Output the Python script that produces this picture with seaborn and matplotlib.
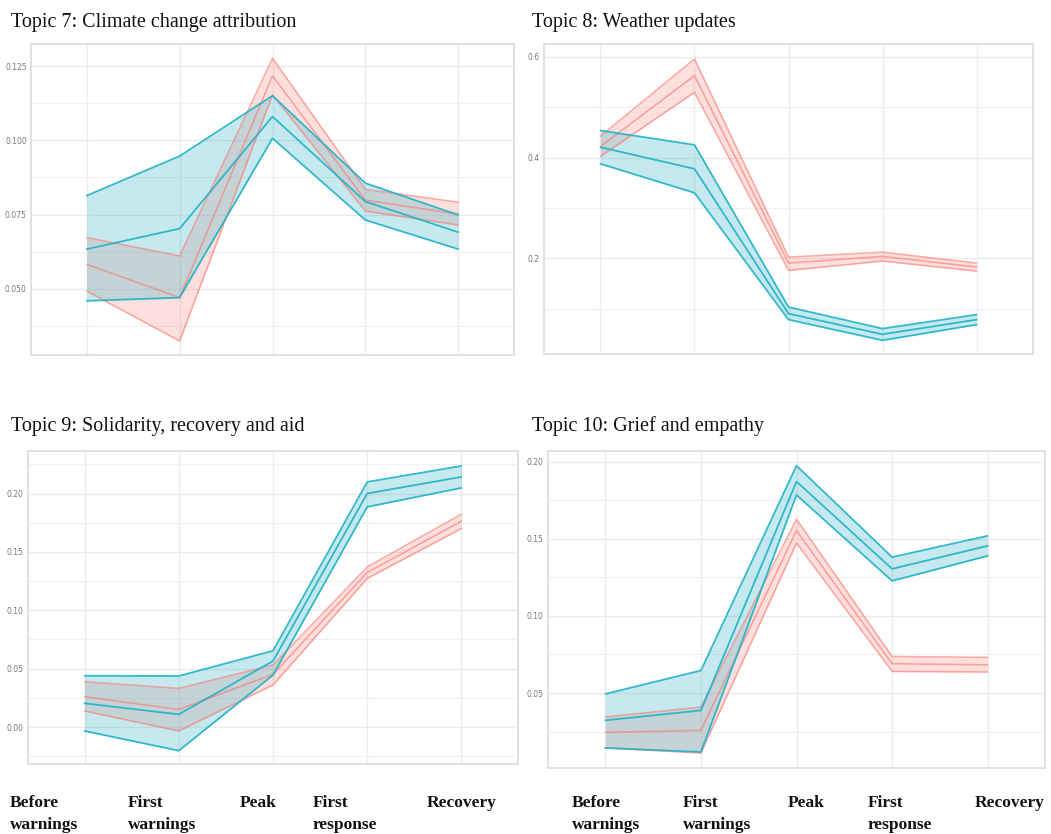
import numpy as np
import pandas as pd
import matplotlib
matplotlib.use("Agg")
import matplotlib.pyplot as plt
from matplotlib.ticker import FixedLocator
import seaborn as sns

# Phases of the event timeline (x axis)
phases = ["Before warnings", "First warnings", "Peak", "First response", "Recovery"]
phase_labels = ["Before\nwarnings", "First\nwarnings", "Peak", "First\nresponse", "Recovery"]

# Topic 7: Climate change attribution
t7_red_mean = [0.0583, 0.0471, 0.1217, 0.0799, 0.0752]
t7_red_low = [0.0493, 0.0325, 0.1153, 0.0762, 0.0715]
t7_red_high = [0.0673, 0.0611, 0.1276, 0.0835, 0.0792]
t7_teal_mean = [0.0634, 0.0703, 0.1080, 0.0794, 0.0691]
t7_teal_low = [0.0460, 0.0471, 0.1007, 0.0732, 0.0634]
t7_teal_high = [0.0814, 0.0947, 0.1150, 0.0856, 0.0749]

# Topic 8: Weather updates
t8_red_mean = [0.4218, 0.5624, 0.1907, 0.2040, 0.1828]
t8_red_low = [0.4020, 0.5293, 0.1762, 0.1947, 0.1749]
t8_red_high = [0.4422, 0.5954, 0.2026, 0.2125, 0.1907]
t8_teal_mean = [0.4204, 0.3776, 0.0905, 0.0495, 0.0786]
t8_teal_low = [0.3875, 0.3300, 0.0786, 0.0376, 0.0687]
t8_teal_high = [0.4535, 0.4251, 0.1036, 0.0608, 0.0885]

# Topic 9: Solidarity, recovery and aid
t9_red_mean = [0.0259, 0.0151, 0.0451, 0.1324, 0.1764]
t9_red_low = [0.0137, -0.0034, 0.0360, 0.1273, 0.1701]
t9_red_high = [0.0388, 0.0331, 0.0531, 0.1372, 0.1824]
t9_teal_mean = [0.0203, 0.0108, 0.0565, 0.2001, 0.2143]
t9_teal_low = [-0.0034, -0.0203, 0.0445, 0.1886, 0.2049]
t9_teal_high = [0.0439, 0.0437, 0.0653, 0.2100, 0.2237]

# Topic 10: Grief and empathy
t10_red_mean = [0.0245, 0.0258, 0.1553, 0.0690, 0.0683]
t10_red_low = [0.0144, 0.0111, 0.1472, 0.0640, 0.0636]
t10_red_high = [0.0345, 0.0409, 0.1627, 0.0737, 0.0731]
t10_teal_mean = [0.0323, 0.0387, 0.1871, 0.1305, 0.1454]
t10_teal_low = [0.0144, 0.0118, 0.1784, 0.1227, 0.1389]
t10_teal_high = [0.0494, 0.0646, 0.1974, 0.1381, 0.1519]

titles = ["Topic 7: Climate change attribution", "Topic 8: Weather updates",
          "Topic 9: Solidarity, recovery and aid", "Topic 10: Grief and empathy"]

RED = "#F8766D"
TEAL = "#1fb3c6"
TEAL_FILL = "#2fb0c4"

W, H = 1051, 834
sns.set_theme(style="white")
fig = plt.figure(figsize=(W / 100, H / 100), dpi=100)


def add_axes_px(left, right, top, bottom):
    return fig.add_axes([left / W, 1 - bottom / H, (right - left) / W, (bottom - top) / H])


def draw_band(ax, mean, low, high, color, fill_color, fill_alpha, line_alpha, lw):
    x = np.arange(len(phases))
    ax.fill_between(x, low, high, color=fill_color, alpha=fill_alpha, lw=0, zorder=2)
    df = pd.DataFrame({
        "pos": np.tile(x, 3),
        "value": list(mean) + list(low) + list(high),
        "kind": ["mean"] * 5 + ["low"] * 5 + ["high"] * 5,
    })
    sns.lineplot(data=df, x="pos", y="value", units="kind", estimator=None,
                 color=color, alpha=line_alpha, lw=lw, ax=ax, zorder=3)


def style_panel(ax, ylim, major, minor, fmt):
    ax.set_xlim(-0.6, 4.6)
    ax.set_ylim(*ylim)
    ax.set_facecolor("white")
    ax.xaxis.set_major_locator(FixedLocator(range(5)))
    ax.set_xticklabels([])
    ax.yaxis.set_major_locator(FixedLocator(major))
    ax.yaxis.set_minor_locator(FixedLocator(minor))
    ax.set_yticklabels([fmt.format(v) for v in major])
    ax.tick_params(axis="both", which="both", length=0)
    ax.tick_params(axis="y", labelsize=5.5, labelcolor="#777777", pad=3)
    ax.grid(True, which="major", color="#ebebeb", lw=1.0, zorder=0)
    ax.grid(True, which="minor", axis="y", color="#f0f0f0", lw=0.8, zorder=0)
    ax.set_axisbelow(True)
    for sp in ax.spines.values():
        sp.set_visible(True)
        sp.set_color("#dedede")
        sp.set_linewidth(1.3)
    ax.set_xlabel("")
    ax.set_ylabel("")


panels = [
    dict(box=(31, 514, 44, 355), ylim=(0.0278, 0.1324),
         major=[0.050, 0.075, 0.100, 0.125], minor=[0.0375, 0.0625, 0.0875, 0.1125],
         fmt="{:.3f}",
         red=(t7_red_mean, t7_red_low, t7_red_high),
         teal=(t7_teal_mean, t7_teal_low, t7_teal_high)),
    dict(box=(544, 1033, 44, 354), ylim=(0.0105, 0.625),
         major=[0.2, 0.4, 0.6], minor=[0.1, 0.3, 0.5],
         fmt="{:.1f}",
         red=(t8_red_mean, t8_red_low, t8_red_high),
         teal=(t8_teal_mean, t8_teal_low, t8_teal_high)),
    dict(box=(28, 518, 451, 764), ylim=(-0.0317, 0.2365),
         major=[0.00, 0.05, 0.10, 0.15, 0.20],
         minor=[-0.025, 0.025, 0.075, 0.125, 0.175, 0.225],
         fmt="{:.2f}",
         red=(t9_red_mean, t9_red_low, t9_red_high),
         teal=(t9_teal_mean, t9_teal_low, t9_teal_high)),
    dict(box=(548, 1045, 451, 768), ylim=(0.0014, 0.2069),
         major=[0.05, 0.10, 0.15, 0.20], minor=[0.025, 0.075, 0.125, 0.175],
         fmt="{:.2f}",
         red=(t10_red_mean, t10_red_low, t10_red_high),
         teal=(t10_teal_mean, t10_teal_low, t10_teal_high)),
]

for p in panels:
    ax = add_axes_px(*p["box"])
    draw_band(ax, *p["red"], color=RED, fill_color=RED, fill_alpha=0.22,
              line_alpha=0.6, lw=1.15)
    draw_band(ax, *p["teal"], color=TEAL, fill_color=TEAL_FILL, fill_alpha=0.27,
              line_alpha=0.9, lw=1.3)
    style_panel(ax, p["ylim"], p["major"], p["minor"], p["fmt"])

# Panel titles
serif = ["Liberation Serif", "DejaVu Serif"]
title_pos = [(11, 27), (532, 27), (11, 431), (532, 431)]
for (tx, ty), t in zip(title_pos, titles):
    fig.text(tx / W, 1 - ty / H, t, family=serif, fontsize=14.5,
             ha="left", va="baseline", color="#111111")

# Phase labels under the bottom row
label_x_left = [10, 128, 240, 313, 427]
label_x_right = [572, 683, 788, 868, 975]
for xs in (label_x_left, label_x_right):
    for lx, lab in zip(xs, phase_labels):
        lines = lab.split("\n")
        for i, line in enumerate(lines):
            by = 807 + 22 * i
            fig.text(lx / W, 1 - by / H, line, family=serif, fontsize=12.5,
                     fontweight="bold", ha="left", va="baseline", color="#111111")

fig.savefig("out.png", dpi=100, facecolor="white")
